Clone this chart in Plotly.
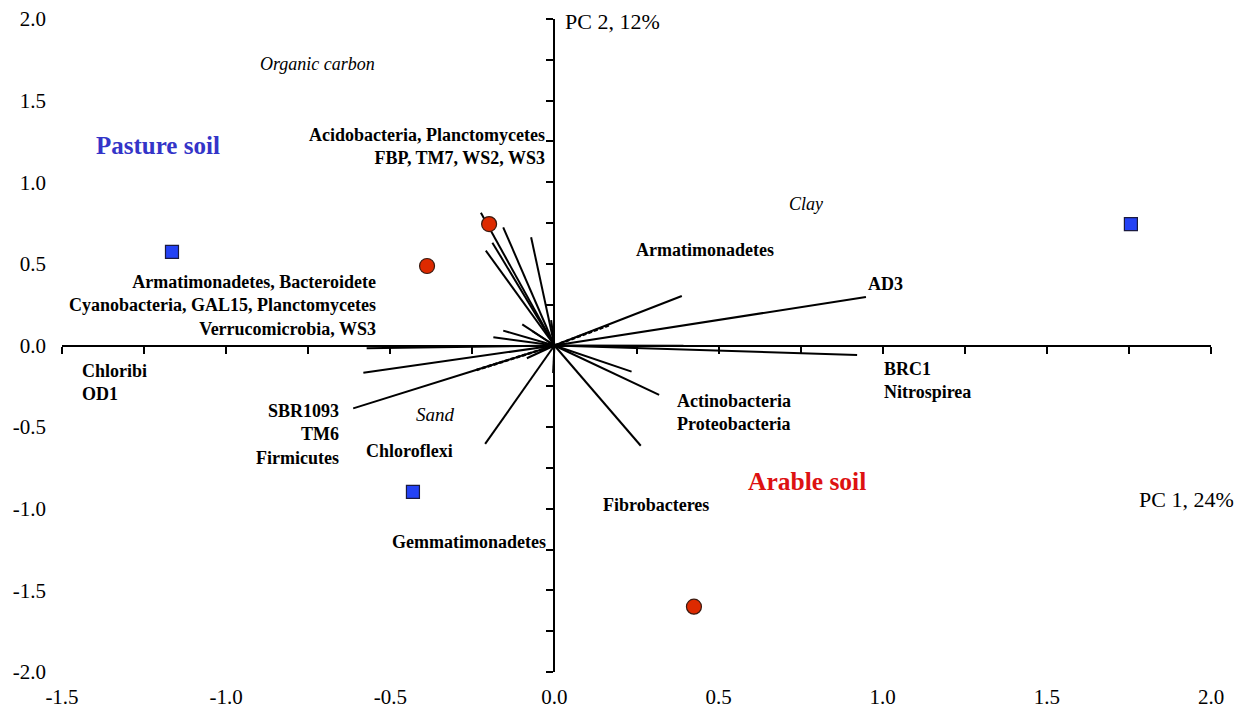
import plotly.graph_objects as go

# ---------------- data ----------------
# sample scores (PC1, PC2)
pasture_x = [-1.165, 1.756, -0.431]
pasture_y = [0.573, 0.744, -0.897]
arable_x = [-0.199, -0.388, 0.425]
arable_y = [0.744, 0.487, -1.600]

# loading vectors (end points, from origin)
vec_x = [-0.224, -0.156, -0.071, -0.189, -0.209, -0.098, -0.156, -0.186, -0.068,
         -0.572, -0.582, -0.613, -0.084, -0.211, -0.004, -0.010,
         0.388, 0.949, 0.393, 0.922, 0.235, 0.319, 0.263]
vec_y = [0.813, 0.724, 0.663, 0.630, 0.581, 0.129, 0.091, 0.050, 0.089,
         -0.017, -0.167, -0.385, -0.078, -0.603, -0.168, 0.156,
         0.303, 0.297, -0.001, -0.058, -0.160, -0.303, -0.614]
# dashed vectors
dvec_x = [-0.237, 0.169]
dvec_y = [-0.150, 0.126]

x_ticks = [-1.5, -1.0, -0.5, 0.0, 0.5, 1.0, 1.5, 2.0]
y_ticks = [-2.0, -1.5, -1.0, -0.5, 0.0, 0.5, 1.0, 1.5, 2.0]
x_range = [-1.5, 2.0]
y_range = [-2.0, 2.0]

FONT = "Liberation Serif, Times New Roman, serif"


def segs(xs, ys):
    sx, sy = [], []
    for a, b in zip(xs, ys):
        sx += [0, a, None]
        sy += [0, b, None]
    return sx, sy


fig = go.Figure()

lx, ly = segs(vec_x, vec_y)
fig.add_trace(go.Scatter(x=lx, y=ly, mode="lines",
                         line=dict(color="black", width=2),
                         hoverinfo="skip", showlegend=False))
dx, dy = segs(dvec_x, dvec_y)
fig.add_trace(go.Scatter(x=dx, y=dy, mode="lines",
                         line=dict(color="black", width=2.5, dash="4px,2px"),
                         hoverinfo="skip", showlegend=False))

fig.add_trace(go.Scatter(x=pasture_x, y=pasture_y, mode="markers",
                         marker=dict(symbol="square", size=13, color="#2442f5",
                                     line=dict(color="#1a1a40", width=1.2)),
                         xaxis="x2", yaxis="y2", showlegend=False))
fig.add_trace(go.Scatter(x=arable_x, y=arable_y, mode="markers",
                         marker=dict(symbol="circle", size=15, color="#dd2a00",
                                     line=dict(color="#3a1a10", width=1.2)),
                         xaxis="x2", yaxis="y2", showlegend=False))

# ---------------- annotations ----------------
def ann(text, x, y, xanchor="center", size=18, bold=True, italic=False,
        color="black", align="center"):
    t = text
    if bold:
        t = "<b>" + t.replace("<br>", "</b><br><b>") + "</b>"
    if italic:
        t = "<i>" + t.replace("<br>", "</i><br><i>") + "</i>"
    fig.add_annotation(x=x, y=y, xref="x", yref="y", text=t, showarrow=False,
                       xanchor=xanchor, yanchor="middle", align=align,
                       font=dict(family=FONT, size=size, color=color))


ann("PC 2, 12%", 0.026, 1.982, xanchor="left", size=22, bold=False)
ann("Organic carbon", -0.723, 1.724, size=18, bold=False, italic=True)
ann("Pasture soil", -1.207, 1.228, size=25, color="#3434c8")
ann("Acidobacteria, Planctomycetes<br>FBP, TM7, WS2, WS3", -0.0225, 1.216,
    xanchor="right", align="right")
ann("Clay", 0.766, 0.867, size=18, bold=False, italic=True)
ann("Armatimonadetes", 0.459, 0.584)
ann("AD3", 1.007, 0.377)
ann("Armatimonadetes, Bacteroidete<br>Cyanobacteria, GAL15, Planctomycetes<br>Verrucomicrobia, WS3",
    -0.537, 0.245, xanchor="right", align="right")
ann("Chloribi<br>OD1", -1.446, -0.224, xanchor="left", align="left")
ann("BRC1<br>Nitrospirea", 0.998, -0.217, xanchor="left", align="left")
ann("SBR1093<br>TM6<br>Firmicutes", -0.650, -0.548, xanchor="right", align="right")
ann("Sand", -0.361, -0.420, size=19, bold=False, italic=True)
ann("Chloroflexi", -0.440, -0.646)
ann("Actinobacteria<br>Proteobacteria", 0.367, -0.413, xanchor="left", align="left")
ann("Arable soil", 0.769, -0.830, size=25.5, color="#dd1111")
ann("Fibrobacteres", 0.309, -0.977)
ann("PC 1, 24%", 1.924, -0.946, size=22, bold=False)
ann("Gemmatimonadetes", -0.260, -1.204)

# ---------------- layout ----------------
zero_pos_x = (0 - x_range[0]) / (x_range[1] - x_range[0])
zero_pos_y = (0 - y_range[0]) / (y_range[1] - y_range[0])

fig.update_layout(
    width=1251, height=711,
    margin=dict(l=54, r=48, t=11, b=47, autoexpand=False),
    paper_bgcolor="white", plot_bgcolor="white",
    font=dict(family=FONT, size=21, color="black"),
    xaxis=dict(range=x_range, showline=False, showgrid=False, zeroline=False,
               tickmode="array", tickvals=x_ticks, automargin=False,
               ticktext=["%.1f" % v for v in x_ticks], ticks="",
               ticklabelstandoff=10, ticklabeloverflow="allow", fixedrange=True,
               tickfont=dict(family=FONT, size=21)),
    yaxis=dict(range=y_range, showline=False, showgrid=False, zeroline=False,
               tickmode="array", tickvals=y_ticks, automargin=False,
               ticktext=["%.1f" % v for v in y_ticks], ticks="",
               ticklabelstandoff=15, ticklabeloverflow="allow", fixedrange=True,
               tickfont=dict(family=FONT, size=21)),
    xaxis2=dict(range=x_range, overlaying="x", anchor="free", position=zero_pos_y,
                side="bottom", showline=True, linecolor="black", linewidth=2,
                ticks="outside", ticklen=7, tickwidth=1.5, tickcolor="black",
                tickmode="linear", tick0=x_range[0], dtick=0.25, automargin=False,
                showticklabels=False, showgrid=False, zeroline=False, fixedrange=True),
    yaxis2=dict(range=y_range, overlaying="y", anchor="free", position=zero_pos_x,
                side="left", showline=True, linecolor="black", linewidth=2,
                ticks="outside", ticklen=7, tickwidth=1.5, tickcolor="black",
                tickmode="linear", tick0=y_range[0], dtick=0.25, automargin=False,
                showticklabels=False, showgrid=False, zeroline=False, fixedrange=True),
)

fig.write_html("out.html")
